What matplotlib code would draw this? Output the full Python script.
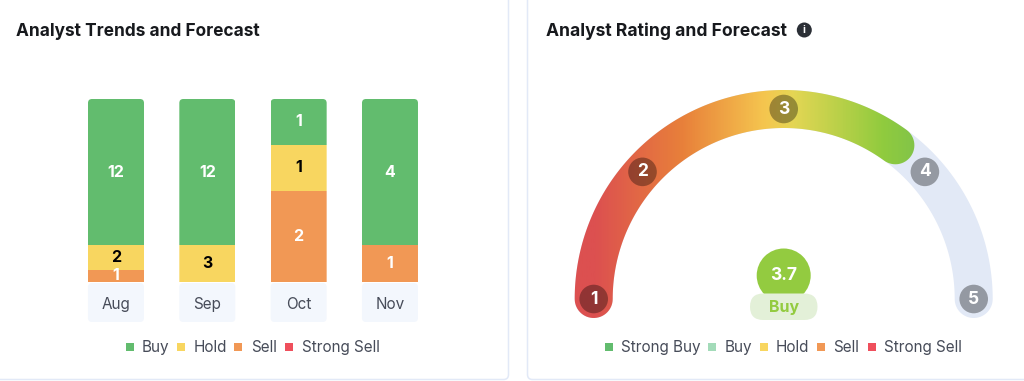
import numpy as np
import matplotlib
matplotlib.use('Agg')
from matplotlib import pyplot as plt
from matplotlib.colors import LinearSegmentedColormap
from matplotlib.patches import Circle, FancyBboxPatch, PathPatch
from matplotlib.path import Path

months = ['Aug', 'Sep', 'Oct', 'Nov']
sell_counts = [1, 0, 2, 1]
hold_counts = [2, 3, 1, 0]
buy_counts = [12, 12, 1, 4]

gauge_ticks = [1, 2, 3, 4, 5]
gauge_tick_angles = [180, 138, 90, 42, 0]
rating = 3.7
rating_angle = 54
rating_label = 'Buy'

left_legend = ['Buy', 'Hold', 'Sell', 'Strong Sell']
right_legend = ['Strong Buy', 'Buy', 'Hold', 'Sell', 'Strong Sell']

GREEN = '#62BC6E'
YELLOW = '#F8D660'
ORANGE = '#F19855'
RED = '#EF4F5C'
MINT = '#A3DBB9'
LIME = '#93CB40'
TRACK = '#E2E9F6'
BORDER = '#E2E9F7'
DARK = '#17191D'
GREY_TEXT = '#474C59'
W, H = 1024, 381

plt.rcParams['font.family'] = ['Inter', 'DejaVu Sans']

fig = plt.figure(figsize=(W / 100, H / 100), dpi=100, facecolor='white')

# overlay in pixel coordinates, for cards, titles and legends
px = fig.add_axes([0, 0, 1, 1], zorder=0)
px.set_xlim(0, W)
px.set_ylim(H, 0)
px.axis('off')

for x0, x1 in [(-30, 508.5), (527.5, 1060)]:
    px.add_patch(FancyBboxPatch((x0, -30), x1 - x0, 409.5, boxstyle='round,pad=0,rounding_size=5',
                                fc='white', ec=BORDER, lw=1.1))

px.text(16, 31.5, 'Analyst Trends and Forecast', fontsize=12.42, fontweight='bold', color=DARK, va='center')
px.text(546.5, 31.5, 'Analyst Rating and Forecast', fontsize=12.6, fontweight='bold', color=DARK, va='center')
px.add_patch(Circle((804.3, 30), 7.5, fc='#2B2F36', ec='none'))
px.text(804.3, 30.3, 'i', fontsize=7.5, fontweight='bold', color='white', ha='center', va='center')

# stacked bars, scaled to the share of each month
bar_left, bar_step, bar_w = 70.33, 91.33, 56
ax = fig.add_axes([bar_left / W, (H - 282) / H, 4 * bar_step / W, 183 / H], zorder=1)
ax.patch.set_alpha(0)
ax.set_xlim(-0.5, 3.5)
ax.set_ylim(0, 1)
for s in ax.spines.values():
    s.set_visible(False)
ax.set_yticks([])
ax.set_xticks(range(len(months)), months)
ax.tick_params(axis='x', length=0, pad=10.5, labelsize=11, labelcolor=GREY_TEXT)

totals = np.array(sell_counts) + np.array(hold_counts) + np.array(buy_counts)
bottom = np.zeros(len(months))
for counts, color, text_color in [(sell_counts, ORANGE, 'white'), (hold_counts, YELLOW, 'black'), (buy_counts, GREEN, 'white')]:
    share = np.array(counts) / totals
    bars = ax.bar(range(len(months)), share, bottom=bottom, width=bar_w / bar_step, color=color, lw=0)
    for i, rect in enumerate(bars):
        cx = bar_left + (i + 0.5) * bar_step
        rect.set_clip_path(FancyBboxPatch((cx - bar_w / 2, 99), bar_w, 200, boxstyle='round,pad=0,rounding_size=4',
                                          transform=px.transData))
        if counts[i] > 0:
            ax.text(i, bottom[i] + share[i] / 2, str(counts[i]), color=text_color, fontsize=11.5,
                    fontweight='bold', ha='center', va='center')
    bottom += share

for i in range(len(months)):
    cx = bar_left + (i + 0.5) * bar_step
    px.add_patch(FancyBboxPatch((cx - bar_w / 2, 283), bar_w, 39, boxstyle='round,pad=0,rounding_size=4',
                                fc='#F3F7FD', ec='none'))

# gauge, in units of the track radius
gx, gy, gr, track_w = 783.7, 299, 190, 38
half = 1.2
gauge = fig.add_axes([(gx - half * gr) / W, (H - gy - half * gr) / H, 2 * half * gr / W, 2 * half * gr / H], zorder=1)
gauge.patch.set_alpha(0)
gauge.axis('off')
tw = track_w / gr


def band(a0, a1):
    # outline of a thick arc with round ends, going from angle a0 down to a1
    r_out, r_in = 1 + tw / 2, 1 - tw / 2
    t = np.radians(np.linspace(a0, a1, 200))
    c0, c1 = np.radians(a0), np.radians(a1)
    caps = np.radians(np.linspace(0, 180, 30))
    end = np.column_stack([np.cos(c1) + tw / 2 * np.cos(c1 - caps), np.sin(c1) + tw / 2 * np.sin(c1 - caps)])
    start = np.column_stack([np.cos(c0) + tw / 2 * np.cos(c0 + np.pi - caps), np.sin(c0) + tw / 2 * np.sin(c0 + np.pi - caps)])
    pts = np.vstack([np.column_stack([r_out * np.cos(t), r_out * np.sin(t)]), end,
                     np.column_stack([r_in * np.cos(t[::-1]), r_in * np.sin(t[::-1])]), start])
    return Path(pts, closed=True)


gauge.add_patch(PathPatch(band(180, 0), fc=TRACK, ec='none'))

cmap = LinearSegmentedColormap.from_list('rating', [(0, '#DC5050'), (0.104, '#DC5050'), (0.346, '#E8803A'),
                                                    (0.573, '#F5C64F'), (0.651, '#E4D654'), (0.90, '#90CB3E'),
                                                    (1, '#80C34A')])
img = gauge.imshow(np.linspace(0, 1, 400)[None, :], cmap=cmap, extent=(-half, 0.72, -half, half), aspect='auto', zorder=2)
fill = PathPatch(band(180, rating_angle), fc='none', ec='none')
gauge.add_patch(fill)
img.set_clip_path(fill)
gauge.set_xlim(-half, half)
gauge.set_ylim(-half, half)

for tick, angle in zip(gauge_ticks, gauge_tick_angles):
    a = np.radians(angle)
    gauge.add_patch(Circle((np.cos(a), np.sin(a)), 14.3 / gr, fc='black', alpha=0.34, ec='none', zorder=3))
    gauge.text(np.cos(a), np.sin(a), str(tick), color='white', fontsize=12.5, fontweight='bold',
               ha='center', va='center', zorder=4)

px2 = fig.add_axes([0, 0, 1, 1], zorder=2)
px2.set_xlim(0, W)
px2.set_ylim(H, 0)
px2.axis('off')
px2.add_patch(Circle((gx, 275.5), 27, fc=LIME, ec='none'))
px2.add_patch(FancyBboxPatch((750, 293.5), 67.5, 26.5, boxstyle='round,pad=0,rounding_size=13.2', fc='#E3F0D8', ec='none'))
px2.text(gx, 276, str(rating), color='white', fontsize=12.5, fontweight='bold', ha='center', va='center')
px2.text(gx, 307.5, rating_label, color=LIME, fontsize=11.5, fontweight='bold', ha='center', va='center')


def add_legend(labels, colors, square_x, text_x):
    for label, color, sx, tx in zip(labels, colors, square_x, text_x):
        px2.plot(sx, 346.5, marker='s', ms=5.2, color=color, mew=0)
        px2.text(tx, 352, label, fontsize=11, color=GREY_TEXT, va='baseline')


add_legend(left_legend, [GREEN, YELLOW, ORANGE, RED], [130, 181, 238, 289], [142, 194, 251, 302])
add_legend(right_legend, [GREEN, MINT, YELLOW, ORANGE, RED], [608.7, 712, 763.6, 821, 872], [621, 725, 776, 833, 884])
px2.set_xlim(0, W)
px2.set_ylim(H, 0)

fig.savefig('out.png', dpi=100)
